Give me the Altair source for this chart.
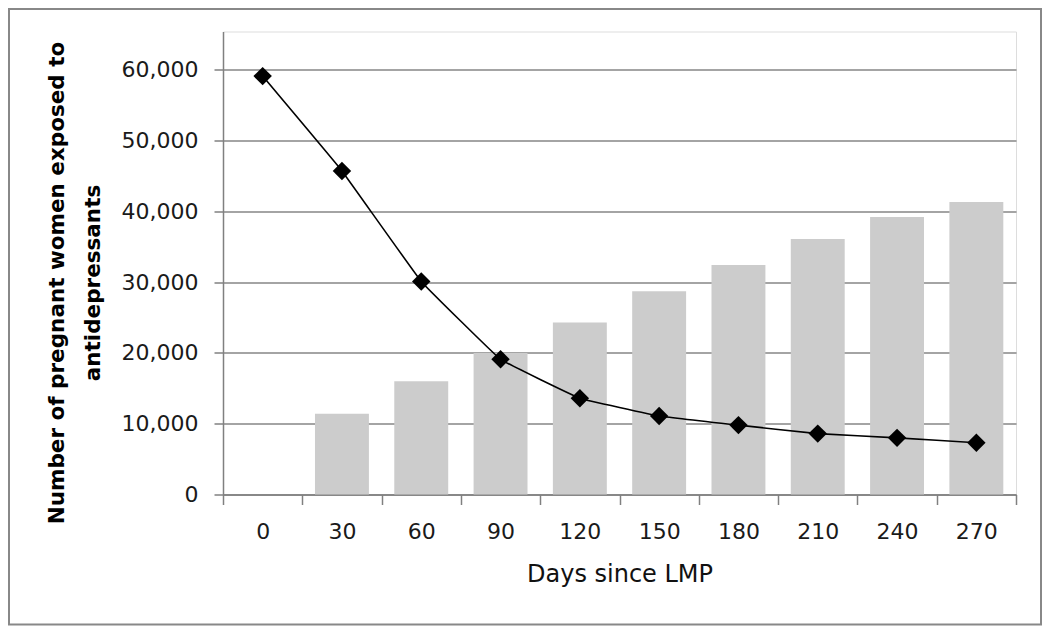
import altair as alt
import pandas as pd

days = ["0", "30", "60", "90", "120", "150", "180", "210", "240", "270"]
bar_values = [None, 11400, 16000, 20000, 24300, 28700, 32400, 36100, 39200, 41300]
line_values = [59100, 45700, 30100, 19100, 13600, 11100, 9800, 8600, 8000, 7300]

df = pd.DataFrame({"day": days, "bars": bar_values, "line": line_values})

W, H = 793, 463
LABEL_FONT = "DejaVu Sans"

x_enc = alt.X(
    "day:N",
    sort=days,
    scale=alt.Scale(paddingInner=0, paddingOuter=0),
    axis=alt.Axis(
        title="Days since LMP",
        labelAngle=0,
        labelFont=LABEL_FONT,
        labelFontSize=22,
        labelColor="#1a1a1a",
        labelPadding=17,
        tickBand="extent",
        tickSize=10,
        tickColor="#808080",
        tickWidth=1.5,
        domainColor="#808080",
        domainWidth=1.5,
        grid=False,
        titleFont="DejaVu Sans",
        titleFontSize=24,
        titleFontWeight="normal",
        titleColor="#111111",
        titlePadding=20,
    ),
)

y_scale = alt.Scale(domain=[0, 65400], nice=False)
y_axis = alt.Axis(
    values=[0, 10000, 20000, 30000, 40000, 50000, 60000],
    format=",.0f",
    labelFont=LABEL_FONT,
    labelFontSize=22,
    labelColor="#1a1a1a",
    labelPadding=16,
    tickSize=9,
    tickColor="#808080",
    tickWidth=1.5,
    domainColor="#808080",
    domainWidth=1.5,
    grid=True,
    gridColor="#868686",
    gridWidth=1.5,
    title=["Number of pregnant women exposed to", "antidepressants"],
    titleFont="DejaVu Sans",
    titleFontSize=21.5,
    titleFontWeight="bold",
    titleColor="#000000",
    titleLineHeight=36,
    titleAngle=-90,
    titleAlign="center",
    titleBaseline="middle",
    titleX=-166,
    titleY=251,
)

base = alt.Chart(df)

bars = base.mark_bar(color="#cccccc", width=alt.RelativeBandSize(0.68)).encode(
    x=x_enc,
    y=alt.Y("bars:Q", scale=y_scale, axis=y_axis),
)

line = base.mark_line(color="#000000", strokeWidth=1.6, interpolate="cardinal", tension=0.8).encode(
    x=alt.X("day:N", sort=days),
    y=alt.Y("line:Q", scale=y_scale),
)

points = base.mark_point(shape="diamond", filled=True, color="#000000", size=340, opacity=1).encode(
    x=alt.X("day:N", sort=days),
    y=alt.Y("line:Q", scale=y_scale),
)

border_df = pd.DataFrame({"k": [0]})
border = alt.Chart(border_df).mark_rect(
    fill="white", fillOpacity=0, stroke="#888888", strokeWidth=2
).encode(
    x=alt.value(-214),
    x2=alt.value(W + 25),
    y=alt.value(-22.5),
    y2=alt.value(H + 130),
)

chart = alt.layer(bars, line, points, border).properties(
    width=W,
    height=H,
    autosize=alt.AutoSizeParams(type="none"),
    padding={"left": 215, "top": 23.5, "right": 26, "bottom": 131},
).configure_view(stroke=None).configure(background="white")

chart.save("out.html", embed_options={"renderer": "svg", "actions": False})
